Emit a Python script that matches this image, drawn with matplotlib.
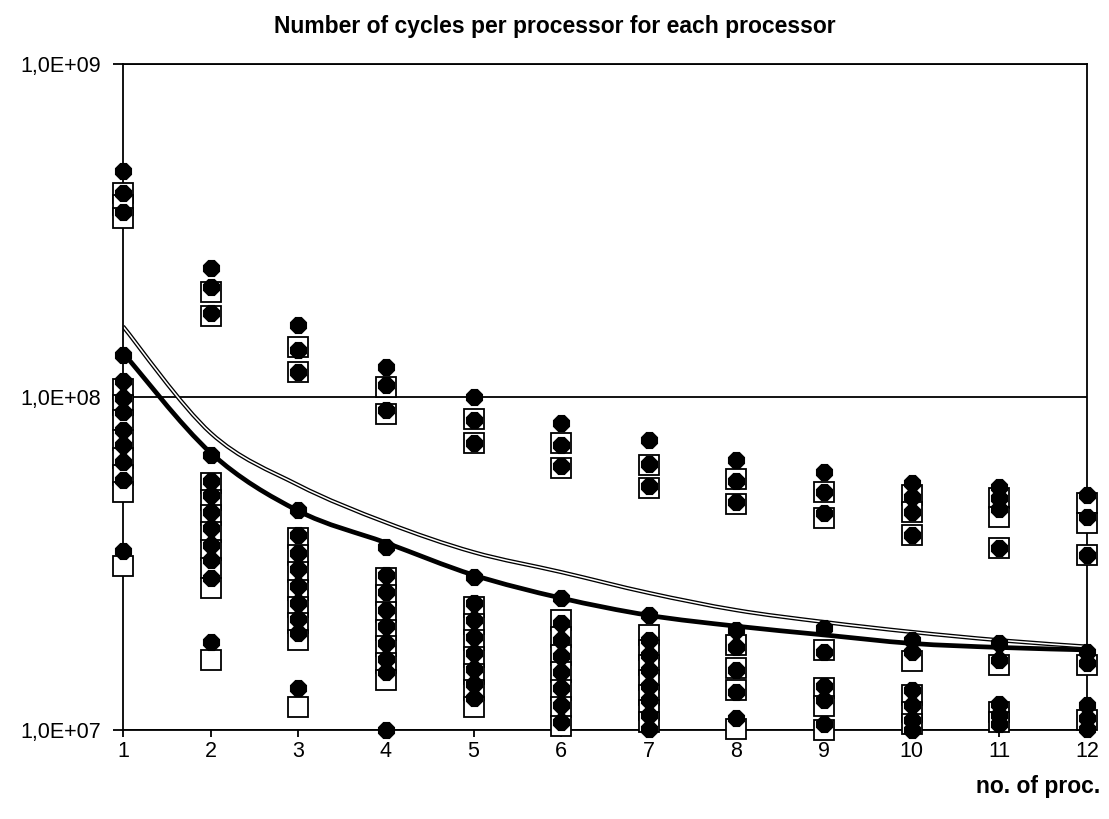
import matplotlib.pyplot as plt
from matplotlib.path import Path
from matplotlib.patches import PathPatch
import numpy as np

procs = list(range(1, 13))

# cycles per processor, one list per processor count (filled dots)
circle_vals = [
    [4.77e8, 4.10e8, 3.60e8, 1.34e8, 1.12e8, 9.93e7, 9.01e7, 7.96e7, 7.18e7, 6.38e7, 5.63e7, 3.45e7],
    [2.44e8, 2.14e8, 1.79e8, 6.70e7, 5.60e7, 5.08e7, 4.50e7, 4.05e7, 3.60e7, 3.24e7, 2.86e7, 1.84e7],
    [1.64e8, 1.38e8, 1.19e8, 4.58e7, 3.85e7, 3.40e7, 3.05e7, 2.70e7, 2.40e7, 2.16e7, 1.95e7, 1.34e7],
    [1.23e8, 1.09e8, 9.14e7, 3.55e7, 2.92e7, 2.60e7, 2.30e7, 2.05e7, 1.83e7, 1.63e7, 1.49e7, 1.00e7],
    [1.00e8, 8.55e7, 7.30e7, 2.88e7, 2.40e7, 2.14e7, 1.90e7, 1.70e7, 1.52e7, 1.37e7, 1.25e7],
    [8.36e7, 7.20e7, 6.20e7, 2.49e7, 2.10e7, 1.86e7, 1.67e7, 1.49e7, 1.34e7, 1.19e7, 1.06e7],
    [7.43e7, 6.30e7, 5.40e7, 2.21e7, 1.86e7, 1.68e7, 1.51e7, 1.36e7, 1.23e7, 1.11e7, 1.01e7],
    [6.47e7, 5.60e7, 4.85e7, 2.00e7, 1.77e7, 1.51e7, 1.30e7, 1.09e7],
    [5.96e7, 5.19e7, 4.49e7, 2.02e7, 1.71e7, 1.36e7, 1.23e7, 1.04e7],
    [5.52e7, 5.00e7, 4.52e7, 3.85e7, 1.86e7, 1.71e7, 1.32e7, 1.19e7, 1.07e7, 1.00e7],
    [5.37e7, 4.98e7, 4.60e7, 3.52e7, 1.82e7, 1.62e7, 1.20e7, 1.11e7, 1.04e7],
    [5.08e7, 4.36e7, 3.36e7, 1.71e7, 1.59e7, 1.19e7, 1.09e7, 1.01e7],
]

# open squares
square_vals = [
    [4.10e8, 3.77e8, 3.45e8, 1.06e8, 9.45e7, 8.53e7, 7.43e7, 6.56e7, 5.83e7, 5.19e7, 3.10e7],
    [2.07e8, 1.75e8, 5.52e7, 4.91e7, 4.42e7, 3.93e7, 3.47e7, 3.06e7, 2.67e7, 1.62e7],
    [1.41e8, 1.19e8, 3.77e7, 3.36e7, 2.98e7, 2.63e7, 2.34e7, 2.10e7, 1.86e7, 1.17e7],
    [1.07e8, 8.89e7, 2.86e7, 2.54e7, 2.26e7, 2.00e7, 1.79e7, 1.59e7, 1.41e7],
    [8.59e7, 7.28e7, 2.34e7, 2.08e7, 1.86e7, 1.66e7, 1.47e7, 1.32e7, 1.17e7],
    [7.28e7, 6.12e7, 2.14e7, 1.90e7, 1.68e7, 1.49e7, 1.32e7, 1.17e7, 1.03e7],
    [6.25e7, 5.33e7, 1.93e7, 1.74e7, 1.57e7, 1.41e7, 1.27e7, 1.15e7, 1.06e7],
    [5.67e7, 4.77e7, 1.80e7, 1.53e7, 1.32e7, 1.01e7],
    [5.19e7, 4.33e7, 1.74e7, 1.34e7, 1.18e7, 1.00e7],
    [5.08e7, 4.52e7, 3.85e7, 1.61e7, 1.27e7, 1.13e7, 1.04e7],
    [4.98e7, 4.36e7, 3.52e7, 1.57e7, 1.13e7, 1.06e7],
    [4.81e7, 4.19e7, 3.36e7, 1.57e7, 1.07e7],
]

# average curves
avg_dots = [1.36e8, 6.80e7, 4.55e7, 3.65e7, 2.92e7, 2.49e7, 2.21e7, 2.05e7, 1.93e7, 1.82e7, 1.77e7, 1.74e7]
avg_squares = [1.63e8, 7.80e7, 5.44e7, 4.20e7, 3.42e7, 2.98e7, 2.58e7, 2.29e7, 2.11e7, 1.97e7, 1.86e7, 1.78e7]

TITLE_FONT = ['Liberation Sans Narrow', 'Liberation Sans', 'DejaVu Sans']
TICK_FONT = ['Liberation Sans', 'DejaVu Sans']


def smooth_path(xs, ys):
    """Excel-style smoothed line: Catmull-Rom as cubic Bezier segments (log y)."""
    pts = np.column_stack([xs, np.log10(ys)])
    n = len(pts)
    verts = [pts[0]]
    codes = [Path.MOVETO]
    for i in range(n - 1):
        p0 = pts[max(i - 1, 0)]
        p1 = pts[i]
        p2 = pts[i + 1]
        p3 = pts[min(i + 2, n - 1)]
        verts += [p1 + (p2 - p0) / 6, p2 - (p3 - p1) / 6, p2]
        codes += [Path.CURVE4] * 3
    verts = np.array(verts)
    verts[:, 1] = 10 ** verts[:, 1]
    return Path(verts, codes)


fig = plt.figure(figsize=(11.09, 8.19), dpi=100)
ax = fig.add_axes([123 / 1109, 1 - 730 / 819, 964 / 1109, 666 / 819])

# lines
sq_path = smooth_path(procs, avg_squares)
ax.add_patch(PathPatch(sq_path, fc='none', ec='black', lw=3.0, zorder=2))
ax.add_patch(PathPatch(sq_path, fc='none', ec='white', lw=1.1, zorder=2.1))
ax.add_patch(PathPatch(smooth_path(procs, avg_dots), fc='none', ec='black', lw=3.4, zorder=2.2))

# markers
for p, vals in zip(procs, square_vals):
    ax.plot([p] * len(vals), vals, ls='none', marker='s', ms=14.5, mfc='white',
            mec='black', mew=1.3, zorder=3, clip_on=False)
for p, vals in zip(procs, circle_vals):
    ax.plot([p] * len(vals), vals, ls='none', marker='8', ms=12, mfc='black',
            mec='black', mew=0.8, zorder=4, clip_on=False)

ax.set_yscale('log')
ax.set_ylim(1e7, 1e9)
ax.set_xlim(1, 12)
ax.set_xticks(procs)
ax.set_xticklabels([str(p) for p in procs], family=TICK_FONT, fontsize=15.5)
ax.set_yticks([1e7, 1e8, 1e9])
ax.set_yticklabels(['1,0E+07', '1,0E+08', '1,0E+09'], family=TICK_FONT, fontsize=15.5)
ax.yaxis.set_minor_locator(plt.NullLocator())
ax.tick_params(axis='y', direction='out', length=7, width=1.3, color='black', pad=9)
ax.tick_params(axis='x', direction='out', length=5, width=1.3, color='black', pad=3)
ax.grid(axis='y', which='major', color='black', lw=1.3)
ax.set_axisbelow(True)
for s in ax.spines.values():
    s.set_linewidth(1.3)
    s.set_color('black')

fig.text(555 / 1109, 1 - 27 / 819, 'Number of cycles per processor for each processor',
         ha='center', va='center', fontsize=16.5, fontweight='bold', family=TITLE_FONT)
fig.text(1100 / 1109, 1 - 786 / 819, 'no. of proc.', ha='right', va='center',
         fontsize=16.5, fontweight='bold', family=TITLE_FONT)

fig.savefig('out.png', dpi=100)
